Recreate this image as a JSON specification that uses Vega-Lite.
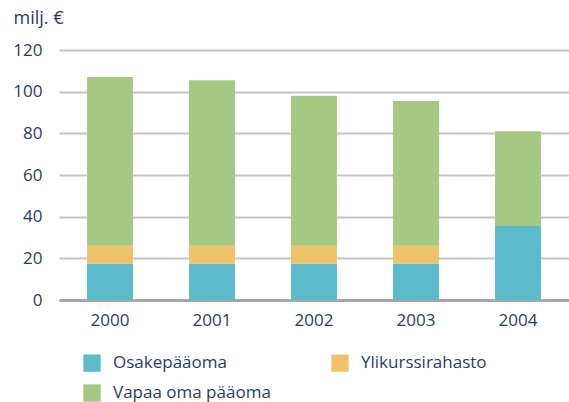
{
  "$schema": "https://vega.github.io/schema/vega-lite/v6.json",
  "width": 510,
  "height": 250,
  "autosize": {"type": "none"},
  "padding": {"left": 59, "top": 50, "right": 0, "bottom": 102},
  "background": "white",
  "config": {
    "view": {"stroke": null},
    "font": "Open Sans",
    "axis": {"labelColor": "#1f3d6e", "labelFont": "Open Sans", "labelFontSize": 16, "titleColor": "#1f3d6e"},
    "legend": {"labelColor": "#1f3d6e", "labelFont": "Open Sans", "labelFontSize": 16}
  },
  "data": {
    "values": [
      {"year": "2000", "series": "Osakepääoma", "o": 1, "value": 17.5},
      {"year": "2000", "series": "Ylikurssirahasto", "o": 2, "value": 8.5},
      {"year": "2000", "series": "Vapaa oma pääoma", "o": 3, "value": 81},
      {"year": "2001", "series": "Osakepääoma", "o": 1, "value": 17.5},
      {"year": "2001", "series": "Ylikurssirahasto", "o": 2, "value": 8.5},
      {"year": "2001", "series": "Vapaa oma pääoma", "o": 3, "value": 79.5},
      {"year": "2002", "series": "Osakepääoma", "o": 1, "value": 17.5},
      {"year": "2002", "series": "Ylikurssirahasto", "o": 2, "value": 8.5},
      {"year": "2002", "series": "Vapaa oma pääoma", "o": 3, "value": 72},
      {"year": "2003", "series": "Osakepääoma", "o": 1, "value": 17.5},
      {"year": "2003", "series": "Ylikurssirahasto", "o": 2, "value": 8.5},
      {"year": "2003", "series": "Vapaa oma pääoma", "o": 3, "value": 69.5},
      {"year": "2004", "series": "Osakepääoma", "o": 1, "value": 35.5},
      {"year": "2004", "series": "Ylikurssirahasto", "o": 2, "value": 0},
      {"year": "2004", "series": "Vapaa oma pääoma", "o": 3, "value": 45.5}
    ]
  },
  "mark": {"type": "bar"},
  "encoding": {
    "x": {
      "field": "year", "type": "nominal",
      "scale": {"paddingInner": 0.55, "paddingOuter": 0.275},
      "axis": {"title": null, "labelAngle": 0, "ticks": false, "domainColor": "#a6a6a6", "domainWidth": 3, "labelPadding": 12, "labelFontSize": 17}
    },
    "y": {
      "field": "value", "type": "quantitative", "stack": "zero",
      "scale": {"domain": [0, 120]},
      "axis": {
        "values": [0, 20, 40, 60, 80, 100, 120],
        "title": "milj. €", "titleAngle": 0, "titleX": -46, "titleY": -32, "titleAlign": "left", "titleBaseline": "middle",
        "titleFont": "Open Sans", "titleFontSize": 18, "titleFontWeight": "normal",
        "domain": false, "ticks": false, "labelPadding": 17, "labelFontSize": 17,
        "gridColor": "#c4c4c4", "gridWidth": 2
      }
    },
    "color": {
      "field": "series", "type": "nominal",
      "scale": {"domain": ["Osakepääoma", "Vapaa oma pääoma", "Ylikurssirahasto"], "range": ["#5bbbca", "#a5c882", "#f0c36b"]},
      "legend": {
        "title": null, "orient": "none", "legendX": 24, "legendY": 304, "columns": 2, "columnPadding": 60,
        "rowPadding": 12, "symbolType": "square", "symbolSize": 300, "symbolStrokeWidth": 0, "symbolOpacity": 1, "labelOffset": 12,
        "labelFontSize": 17
      }
    },
    "order": {"field": "o", "type": "quantitative"}
  }
}
